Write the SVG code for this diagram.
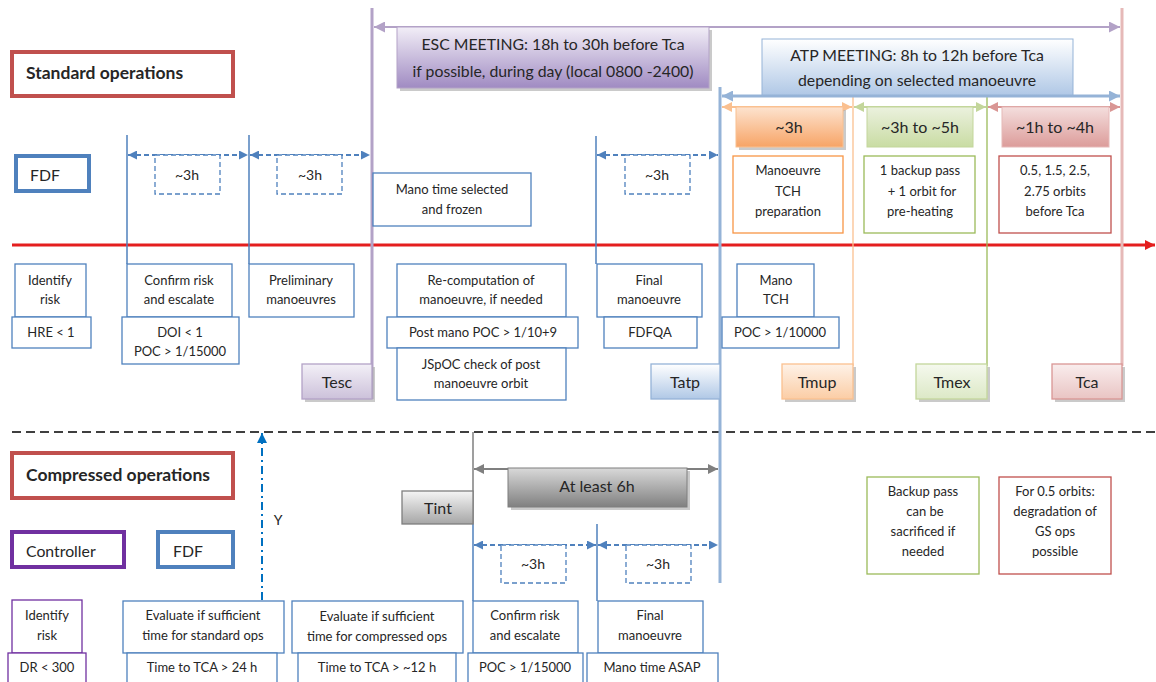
<svg xmlns="http://www.w3.org/2000/svg" width="1156" height="682" viewBox="0 0 1156 682">
<style>
text{font-family:Lato,"Liberation Sans",sans-serif;fill:#262626;text-anchor:middle}
.s{font-size:13px}
.m{font-size:15.8px}
.l{font-size:16px}
.t{font-size:17.5px;font-weight:bold;text-anchor:start}
.b{fill:#fff;stroke:#4F81BD;stroke-width:1.3}
.dash{fill:#fff;stroke:#4F81BD;stroke-width:1.3;stroke-dasharray:5,3}
.vl{stroke:#4F81BD;stroke-width:1.5;fill:none}
.da{stroke:#4F81BD;stroke-width:2;stroke-dasharray:5,3;fill:none;marker-start:url(#ab);marker-end:url(#ab)}
.sh{fill:#A6A6A6;opacity:.6}
</style>
<defs>
<marker id="ab" viewBox="0 0 10 10" refX="10" refY="5" markerWidth="9" markerHeight="9" markerUnits="userSpaceOnUse" orient="auto-start-reverse"><path d="M0,0L10,5L0,10z" fill="#4F81BD"/></marker>
<marker id="ap" viewBox="0 0 10 10" refX="10" refY="5" markerWidth="11" markerHeight="11" markerUnits="userSpaceOnUse" orient="auto-start-reverse"><path d="M0,0L10,5L0,10z" fill="#B3A2C7"/></marker>
<marker id="alb" viewBox="0 0 10 10" refX="10" refY="5" markerWidth="11" markerHeight="11" markerUnits="userSpaceOnUse" orient="auto-start-reverse"><path d="M0,0L10,5L0,10z" fill="#95B3D7"/></marker>
<marker id="ao" viewBox="0 0 10 10" refX="10" refY="5" markerWidth="10" markerHeight="10" markerUnits="userSpaceOnUse" orient="auto-start-reverse"><path d="M0,0L10,5L0,10z" fill="#FAC090"/></marker>
<marker id="ag" viewBox="0 0 10 10" refX="10" refY="5" markerWidth="10" markerHeight="10" markerUnits="userSpaceOnUse" orient="auto-start-reverse"><path d="M0,0L10,5L0,10z" fill="#C3D69B"/></marker>
<marker id="ar" viewBox="0 0 10 10" refX="10" refY="5" markerWidth="10" markerHeight="10" markerUnits="userSpaceOnUse" orient="auto-start-reverse"><path d="M0,0L10,5L0,10z" fill="#D99694"/></marker>
<marker id="agr" viewBox="0 0 10 10" refX="10" refY="5" markerWidth="10" markerHeight="10" markerUnits="userSpaceOnUse" orient="auto-start-reverse"><path d="M0,0L10,5L0,10z" fill="#7F7F7F"/></marker>
<marker id="ared" viewBox="0 0 10 10" refX="10" refY="5" markerWidth="10" markerHeight="10" markerUnits="userSpaceOnUse" orient="auto"><path d="M0,0L10,5L0,10z" fill="#E41E1E"/></marker>
<marker id="ay" viewBox="0 0 10 10" refX="10" refY="5" markerWidth="10" markerHeight="10" markerUnits="userSpaceOnUse" orient="auto"><path d="M0,0L10,5L0,10z" fill="#0070C0"/></marker>
<linearGradient id="gP" x1="0" y1="0" x2="0" y2="1"><stop offset="0" stop-color="#F2EEF7"/><stop offset="1" stop-color="#A08BC2"/></linearGradient>
<linearGradient id="gB" x1="0" y1="0" x2="0" y2="1"><stop offset="0" stop-color="#FFFFFF"/><stop offset="1" stop-color="#B0C8E6"/></linearGradient>
<linearGradient id="gO" x1="0" y1="0" x2="0" y2="1"><stop offset="0" stop-color="#FDE3CF"/><stop offset="1" stop-color="#F7A466"/></linearGradient>
<linearGradient id="gG" x1="0" y1="0" x2="0" y2="1"><stop offset="0" stop-color="#EBF1DE"/><stop offset="1" stop-color="#C9DCA3"/></linearGradient>
<linearGradient id="gR" x1="0" y1="0" x2="0" y2="1"><stop offset="0" stop-color="#F4DEDD"/><stop offset="1" stop-color="#DC9C9A"/></linearGradient>
<linearGradient id="gTP" x1="0" y1="0" x2="0" y2="1"><stop offset="0" stop-color="#F3F0F7"/><stop offset="1" stop-color="#CCC1DA"/></linearGradient>
<linearGradient id="gTO" x1="0" y1="0" x2="0" y2="1"><stop offset="0" stop-color="#FEF2E8"/><stop offset="1" stop-color="#FBCDA5"/></linearGradient>
<linearGradient id="gTG" x1="0" y1="0" x2="0" y2="1"><stop offset="0" stop-color="#F5F9EE"/><stop offset="1" stop-color="#DCE8C6"/></linearGradient>
<linearGradient id="gTR" x1="0" y1="0" x2="0" y2="1"><stop offset="0" stop-color="#F9EDED"/><stop offset="1" stop-color="#E9C4C3"/></linearGradient>
<linearGradient id="gGr" x1="0" y1="0" x2="0" y2="1"><stop offset="0" stop-color="#F5F5F5"/><stop offset="1" stop-color="#A6A6A6"/></linearGradient>
<linearGradient id="gDk" x1="0" y1="0" x2="0" y2="1"><stop offset="0" stop-color="#D9D9D9"/><stop offset="1" stop-color="#808080"/></linearGradient>
</defs>

<g id="connectors">
<line x1="12" y1="245" x2="1155" y2="245" stroke="#E41E1E" stroke-width="3" marker-end="url(#ared)"/>
<line x1="12" y1="432" x2="1156" y2="432" stroke="#000" stroke-width="1.3" stroke-dasharray="9,5"/>
<line x1="372" y1="8" x2="372" y2="399" stroke="#B3A2C7" stroke-width="3"/>
<line x1="1122" y1="8" x2="1122" y2="366" stroke="#E6B9B8" stroke-width="3"/>
<line x1="720" y1="87" x2="720" y2="583" stroke="#95B3D7" stroke-width="3"/>
<line x1="853" y1="96" x2="853" y2="366" stroke="#FAC090" stroke-width="1.3"/>
<line x1="987" y1="96" x2="987" y2="366" stroke="#9BBB59" stroke-width="1.3"/>
<line x1="374" y1="27" x2="1120" y2="27" stroke="#B3A2C7" stroke-width="2" marker-start="url(#ap)" marker-end="url(#ap)"/>
<line x1="722" y1="96" x2="1120" y2="96" stroke="#95B3D7" stroke-width="3" marker-start="url(#alb)" marker-end="url(#alb)"/>
<line x1="722" y1="107" x2="852" y2="107" stroke="#FAC090" stroke-width="2" marker-start="url(#ao)" marker-end="url(#ao)"/>
<line x1="854" y1="107" x2="986" y2="107" stroke="#C3D69B" stroke-width="2" marker-start="url(#ag)" marker-end="url(#ag)"/>
<line x1="988" y1="107" x2="1120" y2="107" stroke="#D99694" stroke-width="2" marker-start="url(#ar)" marker-end="url(#ar)"/>
<line class="vl" x1="127" y1="135" x2="127" y2="264"/>
<line class="vl" x1="249" y1="135" x2="249" y2="264"/>
<line class="vl" x1="596" y1="136" x2="596" y2="264"/>
<line class="da" x1="128" y1="155" x2="248" y2="155"/>
<line class="da" x1="250" y1="155" x2="370" y2="155"/>
<line class="da" x1="597" y1="155" x2="718" y2="155"/>
<line x1="473" y1="432" x2="473" y2="524" stroke="#7F7F7F" stroke-width="1.5"/>
<line class="vl" x1="473" y1="524" x2="473" y2="601"/>
<line class="vl" x1="597" y1="524" x2="597" y2="601"/>
<line x1="474" y1="469" x2="718" y2="469" stroke="#7F7F7F" stroke-width="2" marker-start="url(#agr)" marker-end="url(#agr)"/>
<line class="da" x1="474" y1="545" x2="596" y2="545"/>
<line class="da" x1="598" y1="545" x2="718" y2="545"/>
<line x1="262" y1="600" x2="262" y2="433" stroke="#0070C0" stroke-width="2" stroke-dasharray="8,4,2,4" marker-end="url(#ay)"/>
</g>

<g id="standard-title"><rect x="12" y="52" width="221" height="44" fill="#fff" stroke="#C0504D" stroke-width="4"/><text class="t" x="26" y="79">Standard operations</text></g>
<g id="fdf-std"><rect x="16" y="156" width="73" height="35" fill="#fff" stroke="#4F81BD" stroke-width="4"/><text class="m" x="30" y="181" style="text-anchor:start">FDF</text></g>

<g id="esc-meeting"><rect x="400" y="30" width="312" height="61" class="sh"/><rect x="397" y="27" width="312" height="61" fill="url(#gP)" stroke="#B3A2C7" stroke-width="1"/><text class="m" x="553" y="50">ESC MEETING: 18h to 30h before Tca</text><text class="m" x="553" y="77">if possible, during day (local 0800 -2400)</text></g>
<g id="atp-meeting"><rect x="762" y="39" width="311" height="56" fill="url(#gB)" stroke="#95B3D7" stroke-width="1"/><text class="m" x="917" y="61">ATP MEETING: 8h to 12h before Tca</text><text class="m" x="917" y="86">depending on selected manoeuvre</text></g>

<g id="d1"><rect class="dash" x="155" y="155" width="65" height="39"/><text class="s" x="187" y="180" style="font-size:14px">~3h</text></g>
<g id="d2"><rect class="dash" x="277" y="155" width="65" height="39"/><text class="s" x="310" y="180" style="font-size:14px">~3h</text></g>
<g id="d3"><rect class="dash" x="625" y="155" width="65" height="39"/><text class="s" x="657" y="180" style="font-size:14px">~3h</text></g>

<g id="dur-orange"><rect x="739" y="110" width="107" height="40" class="sh"/><rect x="736" y="107" width="107" height="40" fill="url(#gO)" stroke="#FAC090" stroke-width="1"/><text class="l" x="789" y="133">~3h</text></g>
<g id="dur-green"><rect x="867" y="107" width="106" height="40" fill="url(#gG)" stroke="#C3D69B" stroke-width="1"/><text class="l" x="920" y="133">~3h to ~5h</text></g>
<g id="dur-red"><rect x="1002" y="107" width="107" height="40" fill="url(#gR)" stroke="#E6B9B8" stroke-width="1"/><text class="l" x="1055" y="133">~1h to ~4h</text></g>

<g id="mano-tch-prep"><rect x="733" y="156" width="110" height="77" fill="#fff" stroke="#F79646" stroke-width="1.3"/><text class="s" x="788" y="175">Manoeuvre</text><text class="s" x="788" y="196">TCH</text><text class="s" x="788" y="216">preparation</text></g>
<g id="backup-pass"><rect x="864" y="156" width="111" height="77" fill="#fff" stroke="#9BBB59" stroke-width="1.3"/><text class="s" x="920" y="175">1 backup pass</text><text class="s" x="922" y="196">+ 1 orbit for</text><text class="s" x="920" y="216">pre-heating</text></g>
<g id="orbits"><rect x="999" y="156" width="112" height="77" fill="#fff" stroke="#C0504D" stroke-width="1.3"/><text class="s" x="1055" y="175">0.5, 1.5, 2.5,</text><text class="s" x="1055" y="196">2.75 orbits</text><text class="s" x="1055" y="216">before Tca</text></g>

<g id="mano-frozen"><rect class="b" x="373" y="173" width="158" height="53"/><text class="s" x="452" y="194">Mano time selected</text><text class="s" x="452" y="214">and frozen</text></g>

<g id="identify-risk"><rect class="b" x="15" y="264" width="71" height="53"/><text class="s" x="50" y="285">Identify</text><text class="s" x="50" y="304">risk</text></g>
<g id="hre"><rect class="b" x="12" y="317" width="79" height="31"/><text class="s" x="51" y="337">HRE &lt; 1</text></g>
<g id="confirm-risk"><rect class="b" x="127" y="264" width="105" height="53"/><text class="s" x="179" y="285">Confirm risk</text><text class="s" x="179" y="304">and escalate</text></g>
<g id="doi"><rect class="b" x="122" y="317" width="117" height="47"/><text class="s" x="180" y="337">DOI &lt; 1</text><text class="s" x="180" y="356">POC &gt; 1/15000</text></g>
<g id="prelim"><rect class="b" x="249" y="264" width="105" height="53"/><text class="s" x="301" y="285">Preliminary</text><text class="s" x="301" y="304">manoeuvres</text></g>
<g id="tesc"><rect x="305" y="367" width="70" height="35" class="sh"/><rect x="302" y="364" width="70" height="35" fill="url(#gTP)" stroke="#B3A2C7" stroke-width="1.3"/><text class="l" x="337" y="388">Tesc</text></g>

<g id="recomp"><rect class="b" x="397" y="264" width="169" height="53"/><text class="s" x="481" y="285">Re-computation of</text><text class="s" x="481" y="304">manoeuvre, if needed</text></g>
<g id="post-mano"><rect class="b" x="387" y="317" width="191" height="31"/><text class="s" x="483" y="337">Post mano POC &gt; 1/10+9</text></g>
<g id="jspoc"><rect class="b" x="397" y="348" width="169" height="52"/><text class="s" x="481" y="369">JSpOC check of post</text><text class="s" x="481" y="388">manoeuvre orbit</text></g>
<g id="final-man"><rect class="b" x="597" y="264" width="105" height="53"/><text class="s" x="649" y="285">Final</text><text class="s" x="649" y="304">manoeuvre</text></g>
<g id="fdfqa"><rect class="b" x="604" y="317" width="93" height="31"/><text class="s" x="650" y="337">FDFQA</text></g>
<g id="tatp"><rect x="651" y="364" width="69" height="35" fill="url(#gB)" stroke="#95B3D7" stroke-width="1.3"/><text class="l" x="685" y="388">Tatp</text></g>
<g id="mano-tch"><rect class="b" x="737" y="264" width="77" height="53"/><text class="s" x="776" y="285">Mano</text><text class="s" x="776" y="304">TCH</text></g>
<g id="poc10000"><rect class="b" x="722" y="317" width="117" height="31"/><text class="s" x="780" y="337">POC &gt; 1/10000</text></g>
<g id="tmup"><rect x="785" y="367" width="71" height="35" class="sh"/><rect x="782" y="364" width="71" height="35" fill="url(#gTO)" stroke="#FAC090" stroke-width="1.3"/><text class="l" x="817" y="388">Tmup</text></g>
<g id="tmex"><rect x="919" y="367" width="71" height="35" class="sh"/><rect x="916" y="364" width="71" height="35" fill="url(#gTG)" stroke="#C3D69B" stroke-width="1.3"/><text class="l" x="952" y="388">Tmex</text></g>
<g id="tca"><rect x="1055" y="367" width="70" height="35" class="sh"/><rect x="1052" y="364" width="70" height="35" fill="url(#gTR)" stroke="#D99694" stroke-width="1.3"/><text class="l" x="1087" y="388">Tca</text></g>

<g id="compressed-title"><rect x="12" y="453" width="221" height="45" fill="#fff" stroke="#C0504D" stroke-width="4"/><text class="t" x="26" y="481">Compressed operations</text></g>
<g id="controller"><rect x="12" y="532" width="112" height="35" fill="#fff" stroke="#7030A0" stroke-width="4"/><text class="m" x="26" y="557" style="text-anchor:start">Controller</text></g>
<g id="fdf-comp"><rect x="158" y="532" width="75" height="35" fill="#fff" stroke="#4F81BD" stroke-width="4"/><text class="m" x="173" y="557" style="text-anchor:start">FDF</text></g>
<g id="y-label"><text class="m" x="278" y="525" style="font-size:14px">Y</text></g>

<g id="tint"><rect x="402" y="491" width="71" height="33" fill="url(#gGr)" stroke="#7F7F7F" stroke-width="1.3"/><text class="l" x="438" y="514">Tint</text></g>
<g id="atleast"><rect x="511" y="471" width="179" height="39" class="sh"/><rect x="508" y="468" width="179" height="39" fill="url(#gDk)" stroke="#7F7F7F" stroke-width="1"/><text class="l" x="597" y="492">At least 6h</text></g>
<g id="d4"><rect class="dash" x="501" y="545" width="65" height="38"/><text class="s" x="533" y="569" style="font-size:14px">~3h</text></g>
<g id="d5"><rect class="dash" x="626" y="545" width="65" height="38"/><text class="s" x="658" y="569" style="font-size:14px">~3h</text></g>

<g id="backup-sacrificed"><rect x="867" y="477" width="112" height="97" fill="#fff" stroke="#9BBB59" stroke-width="1.3"/><text class="s" x="923" y="496">Backup pass</text><text class="s" x="925" y="516">can be</text><text class="s" x="923" y="536">sacrificed if</text><text class="s" x="923" y="556">needed</text></g>
<g id="degradation"><rect x="999" y="477" width="112" height="97" fill="#fff" stroke="#C0504D" stroke-width="1.3"/><text class="s" x="1055" y="496">For 0.5 orbits:</text><text class="s" x="1055" y="516">degradation of</text><text class="s" x="1055" y="536">GS ops</text><text class="s" x="1055" y="556">possible</text></g>

<g id="c-identify"><rect x="12" y="600" width="70" height="53" fill="#fff" stroke="#7030A0" stroke-width="1.3"/><text class="s" x="47" y="620">Identify</text><text class="s" x="47" y="640">risk</text></g>
<g id="dr"><rect x="8" y="653" width="78" height="40" fill="#fff" stroke="#7030A0" stroke-width="1.3"/><text class="s" x="47" y="672">DR &lt; 300</text></g>
<g id="eval-std"><rect class="b" x="123" y="601" width="161" height="52"/><text class="s" x="203" y="620">Evaluate if sufficient</text><text class="s" x="203" y="640">time for standard ops</text></g>
<g id="tca24"><rect class="b" x="127" y="653" width="150" height="40"/><text class="s" x="202" y="672">Time to TCA &gt; 24 h</text></g>
<g id="eval-comp"><rect class="b" x="292" y="601" width="171" height="52"/><text class="s" x="377" y="621">Evaluate if sufficient</text><text class="s" x="377" y="641">time for compressed ops</text></g>
<g id="tca12"><rect class="b" x="298" y="653" width="158" height="40"/><text class="s" x="377" y="672">Time to TCA &gt; ~12 h</text></g>
<g id="c-confirm"><rect class="b" x="473" y="601" width="105" height="52"/><text class="s" x="525" y="620">Confirm risk</text><text class="s" x="525" y="640">and escalate</text></g>
<g id="c-poc"><rect class="b" x="468" y="653" width="115" height="40"/><text class="s" x="525" y="672">POC &gt; 1/15000</text></g>
<g id="c-final"><rect class="b" x="598" y="601" width="105" height="52"/><text class="s" x="650" y="620">Final</text><text class="s" x="650" y="640">manoeuvre</text></g>
<g id="c-asap"><rect class="b" x="587" y="653" width="131" height="40"/><text class="s" x="652" y="672">Mano time ASAP</text></g>
</svg>
